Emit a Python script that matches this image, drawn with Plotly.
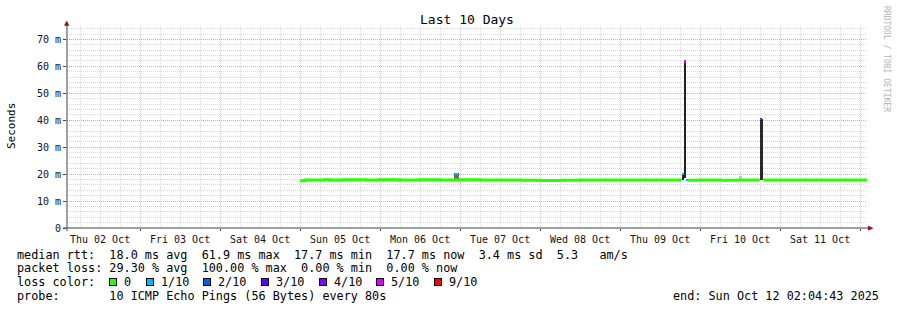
import plotly.graph_objects as go

# ---------------- data ----------------
title_text = "Last 10 Days"
y_title = "Seconds"
y_tickvals = [0, 10, 20, 30, 40, 50, 60, 70]
y_ticktext = ["0", "10 m", "20 m", "30 m", "40 m", "50 m", "60 m", "70 m"]
x_start = "2025-10-02 02:04:43"
x_end = "2025-10-12 02:04:43"
y_max = 74.6

# median rtt (ms), loss 0 (green); None = gap
base_time = [
    "2025-10-05 00:00", "2025-10-05 01:30", "2025-10-05 07:00", "2025-10-05 09:00",
    "2025-10-05 13:00", "2025-10-05 20:00", "2025-10-06 00:00", "2025-10-06 06:00",
    "2025-10-06 12:00", "2025-10-06 18:00", "2025-10-07 00:00", "2025-10-07 06:00",
    "2025-10-07 12:00", "2025-10-07 18:00", "2025-10-08 00:00", "2025-10-08 06:00",
    "2025-10-08 12:00", "2025-10-08 18:00", "2025-10-09 00:00", "2025-10-09 06:00",
    "2025-10-09 12:00", "2025-10-09 18:30", "2025-10-09 18:31", "2025-10-09 20:18",
    "2025-10-10 00:00", "2025-10-10 06:00", "2025-10-10 12:00", "2025-10-10 17:54",
    "2025-10-10 17:55", "2025-10-10 18:49", "2025-10-11 00:00", "2025-10-11 06:00",
    "2025-10-11 12:00", "2025-10-11 18:00", "2025-10-12 02:04",
]
base_rtt = [
    17.5, 17.8, 17.9, 17.8,
    17.9, 17.8, 17.9, 17.8,
    17.9, 17.8, 17.9, 17.8,
    17.8, 17.7, 17.6, 17.7,
    17.8, 17.8, 17.8, 17.8,
    17.8, 17.8, None, 17.7,
    17.8, 17.7, 17.8, 17.8,
    None, 17.8, 17.8, 17.8,
    17.8, 17.8, 17.8,
]

# loss / latency events (median, loss, smoke range, smoke width in hours)
event_time = ["2025-10-06 22:55", "2025-10-09 18:49", "2025-10-09 19:25",
              "2025-10-09 20:01", "2025-10-10 18:23"]
event_median = [20.3, 20.3, 61.9, 17.8, 40.6]
event_loss = [1, 1, 5, 1, 2]
smoke_low = [17.9, 18.0, 18.5, 17.8, 18.0]
smoke_high = [20.3, 20.3, 61.9, 17.8, 40.6]
smoke_hours = [1.5, 0.3, 0.6, 0.6, 0.7]
smoke_color = ["#6a6a6a", "#262626", "#222222", "#222222", "#2a2a2a"]
mark_hours = [0.9, 0.3, 0.4, 0.6, 0.5]

# light smoke spots
light_time = ["2025-10-06 03:50", "2025-10-10 12:10"]
light_low = [18.0, 17.9]
light_high = [18.7, 19.3]

loss_labels = ["0", "1/10", "2/10", "3/10", "4/10", "5/10", "9/10"]
loss_level = [0, 1, 2, 3, 4, 5, 9]
loss_colors = ["#26ff00", "#00b8ff", "#0059ff", "#5e00ff", "#7e00ff", "#dd00ff", "#ff0000"]

rtt_avg, rtt_max, rtt_min, rtt_now, rtt_sd, am_s = 18.0, 61.9, 17.7, 17.7, 3.4, 5.3
loss_avg, loss_max, loss_min, loss_now = 29.30, 100.00, 0.00, 0.00
probe_text = "10 ICMP Echo Pings (56 Bytes) every 80s"
end_text = "end: Sun Oct 12 02:04:43 2025"
watermark = "RRDTOOL / TOBI OETIKER"

# ---------------- layout constants ----------------
W, H = 897, 310
L, R, T, B = 67, 30, 27, 82
PW = W - L - R
PH = H - T - B
FONT = "DejaVu Sans Mono"
HOUR_MS = 3600 * 1000


def px(xp):
    return (xp - L) / PW


def py(yp):
    return (H - B - yp) / PH


def nb(s):
    return s.replace(" ", "\u00a0")


color_of = dict(zip(loss_level, loss_colors))

fig = go.Figure()

# light smoke
fig.add_trace(go.Bar(
    x=light_time, base=light_low, y=[h - l for h, l in zip(light_high, light_low)],
    width=[1.0 * HOUR_MS] * len(light_time), marker=dict(color="#c4c4c4", line=dict(width=0)),
    showlegend=False, hoverinfo="skip"))

# green median line
fig.add_trace(go.Scatter(
    x=base_time, y=base_rtt, mode="lines", line=dict(color=loss_colors[0], width=3, shape="hv"),
    connectgaps=False, showlegend=False, hoverinfo="skip"))

# smoke of events
fig.add_trace(go.Bar(
    x=event_time, base=smoke_low, y=[h - l for h, l in zip(smoke_high, smoke_low)],
    width=[h * HOUR_MS for h in smoke_hours], marker=dict(color=smoke_color, line=dict(width=0)),
    showlegend=False, hoverinfo="skip"))

# median marks coloured by loss
fig.add_trace(go.Bar(
    x=event_time, base=[m - 0.5 for m in event_median], y=[0.8] * len(event_time),
    width=[h * HOUR_MS for h in mark_hours],
    marker=dict(color=[color_of[l] for l in event_loss], line=dict(width=0)),
    showlegend=False, hoverinfo="skip"))

grid_major = "rgba(240,130,130,0.6)"
grid_minor = "rgba(190,190,190,0.6)"

fig.update_layout(
    width=W, height=H,
    margin=dict(l=L, r=R, t=T, b=B, pad=0),
    paper_bgcolor="white", plot_bgcolor="white",
    barmode="overlay", bargap=0,
    font=dict(family=FONT, size=10, color="#000"),
    title=dict(text=title_text, x=0.5, xref="paper", xanchor="center",
               y=1 - 19 / H, yanchor="middle", font=dict(family=FONT, size=13, color="#000")),
    xaxis=dict(
        type="date", range=[x_start, x_end],
        tick0="2025-10-02", dtick=86400000, ticklabelmode="period",
        tickformat="%a %d %b",
        showgrid=True, gridcolor=grid_major, griddash="1px,1px", gridwidth=1,
        ticks="outside", ticklen=2, tickcolor="#444",
        tickfont=dict(family=FONT, size=10, color="#111"),
        minor=dict(dtick=6 * HOUR_MS, showgrid=True, gridcolor=grid_minor, griddash="1px,1px",
                   ticks=""),
        showline=False, zeroline=False, fixedrange=True,
    ),
    yaxis=dict(
        range=[0, y_max], tickvals=y_tickvals, ticktext=y_ticktext,
        showgrid=True, gridcolor=grid_major, griddash="1px,1px", gridwidth=1,
        ticks="outside", ticklen=3, tickcolor="#444",
        tickfont=dict(family=FONT, size=10, color="#111"),
        minor=dict(dtick=2, showgrid=True, gridcolor=grid_minor, griddash="1px,1px", ticks=""),
        showline=False, zeroline=False, fixedrange=True,
    ),
)

# axis lines (extended like rrdtool) and arrows
fig.add_shape(type="line", xref="paper", yref="paper", x0=px(63), x1=px(869), y0=0, y1=0,
              line=dict(color="#444", width=1), layer="above")
fig.add_shape(type="line", xref="paper", yref="paper", x0=0, x1=0, y0=py(231), y1=py(24),
              line=dict(color="#444", width=1), layer="above")

ann = []
ann.append(dict(text="\u25b2", x=px(67), y=py(23), xref="paper", yref="paper", showarrow=False,
                xanchor="center", yanchor="middle", font=dict(family="DejaVu Sans", size=7, color="#8b1a1a")))
ann.append(dict(text="\u25b6", x=px(871), y=py(228), xref="paper", yref="paper", showarrow=False,
                xanchor="center", yanchor="middle", font=dict(family="DejaVu Sans", size=7, color="#8b1a1a")))

# y title and watermark
ann.append(dict(text=y_title, x=px(11), y=py(126), xref="paper", yref="paper", showarrow=False,
                textangle=-90, xanchor="center", yanchor="middle",
                font=dict(family=FONT, size=11, color="#000")))
ann.append(dict(text=nb(watermark), x=px(887), y=py(59), xref="paper", yref="paper", showarrow=False,
                textangle=90, xanchor="center", yanchor="middle",
                font=dict(family=FONT, size=8, color="#b4b4b4")))

LEG = dict(family=FONT, size=11.8, color="#000")
row1 = (f"median rtt:  {rtt_avg:.1f} ms avg  {rtt_max:.1f} ms max  {rtt_min:.1f} ms min  "
        f"{rtt_now:.1f} ms now  {rtt_sd:.1f} ms sd  {am_s:.1f}   am/s")
row2 = (f"packet loss: {loss_avg:.2f} % avg  {loss_max:.2f} % max  {loss_min:.2f} % min  "
        f"{loss_now:.2f} % now")
row4 = f"probe:       {probe_text}"
row_y = [254.5, 268.3, 282.3, 296.2]
for txt, yy in [(row1, row_y[0]), (row2, row_y[1]), ("loss color:", row_y[2]), (row4, row_y[3])]:
    ann.append(dict(text=nb(txt), x=px(15), y=py(yy), xref="paper", yref="paper", showarrow=False,
                    xanchor="left", yanchor="middle", font=LEG))
ann.append(dict(text=nb(end_text), x=px(881), y=py(row_y[3]), xref="paper", yref="paper",
                showarrow=False, xanchor="right", yanchor="middle", font=LEG))

swatch_x = [109, 145.7, 203.3, 261, 318.7, 376.3, 434]
for sx, lab, col in zip(swatch_x, loss_labels, loss_colors):
    ann.append(dict(text="\u00a0", x=px(sx), y=py(282.3), xref="paper", yref="paper", showarrow=False,
                    xanchor="left", yanchor="middle", width=6, height=6, bgcolor=col,
                    bordercolor="#000", borderwidth=1, borderpad=0, font=dict(size=4)))
    ann.append(dict(text=nb(lab), x=px(sx + 13), y=py(row_y[2]), xref="paper", yref="paper",
                    showarrow=False, xanchor="left", yanchor="middle", font=LEG))

fig.update_layout(annotations=ann)
fig.write_html("out.html", config={"displayModeBar": False})
